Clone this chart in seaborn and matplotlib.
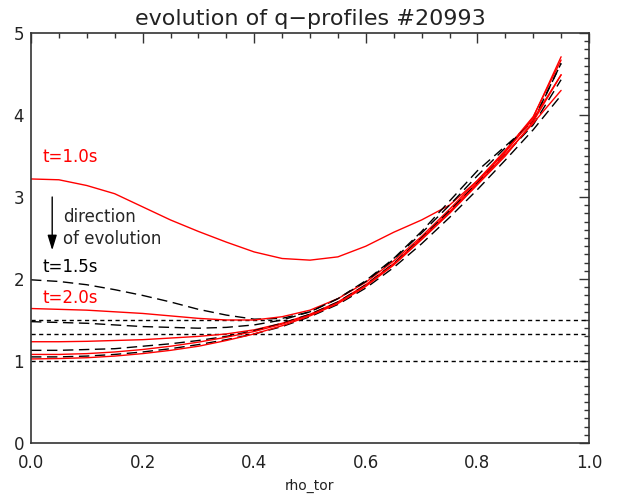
import numpy as np
import pandas as pd
import matplotlib
matplotlib.use("Agg")
import matplotlib.pyplot as plt
import seaborn as sns

# toroidal flux coordinate grid on which the profiles are given
rho = [0.00, 0.05, 0.10, 0.15, 0.20, 0.25, 0.30, 0.35, 0.40, 0.45,
       0.50, 0.55, 0.60, 0.65, 0.70, 0.75, 0.80, 0.85, 0.90, 0.95]

# safety factor profiles, ordered in time (t=1.0s first)
q_p0 = [3.22, 3.21, 3.14, 3.04, 2.88, 2.72, 2.58, 2.45, 2.33, 2.25,
        2.23, 2.27, 2.40, 2.57, 2.72, 2.90, 3.20, 3.55, 3.97, 4.71]
q_p1 = [1.99, 1.97, 1.93, 1.87, 1.80, 1.72, 1.63, 1.56, 1.51, 1.52,
        1.60, 1.76, 1.98, 2.25, 2.58, 2.95, 3.32, 3.62, 3.92, 4.63]
q_p2 = [1.64, 1.63, 1.62, 1.60, 1.58, 1.55, 1.52, 1.50, 1.50, 1.54,
        1.62, 1.76, 1.96, 2.22, 2.52, 2.85, 3.20, 3.57, 3.98, 4.67]
q_p3 = [1.48, 1.47, 1.46, 1.44, 1.42, 1.41, 1.40, 1.41, 1.44, 1.50,
        1.60, 1.76, 1.97, 2.24, 2.56, 2.90, 3.26, 3.60, 3.93, 4.63]
q_p4 = [1.235, 1.235, 1.24, 1.25, 1.26, 1.28, 1.30, 1.33, 1.38, 1.46,
        1.57, 1.72, 1.93, 2.19, 2.50, 2.82, 3.18, 3.55, 3.95, 4.49]
q_p5 = [1.13, 1.13, 1.14, 1.15, 1.18, 1.21, 1.25, 1.30, 1.37, 1.46,
        1.57, 1.72, 1.93, 2.19, 2.50, 2.83, 3.17, 3.52, 3.88, 4.43]
q_p6 = [1.08, 1.08, 1.09, 1.11, 1.14, 1.18, 1.23, 1.29, 1.36, 1.45,
        1.56, 1.71, 1.92, 2.18, 2.49, 2.81, 3.16, 3.52, 3.90, 4.30]
q_p7 = [1.05, 1.05, 1.06, 1.08, 1.11, 1.15, 1.20, 1.26, 1.33, 1.42,
        1.54, 1.69, 1.89, 2.14, 2.43, 2.75, 3.09, 3.45, 3.82, 4.24]
q_p8 = [1.025, 1.03, 1.04, 1.06, 1.09, 1.13, 1.18, 1.25, 1.33, 1.43,
        1.55, 1.70, 1.91, 2.17, 2.48, 2.80, 3.15, 3.50, 3.92, 4.49]

profiles = [q_p0, q_p1, q_p2, q_p3, q_p4, q_p5, q_p6, q_p7, q_p8]
profile_names = [f"p{i}" for i in range(len(profiles))]

# rational surfaces q = 1, 4/3, 3/2
q_rational = [1.0, 4.0 / 3.0, 1.5]

# time labels: (text, colour, x, y)
time_labels = [("t=1.0s", "#ff0000", 0.020, 3.49),
               ("t=1.5s", "black", 0.020, 2.15),
               ("t=2.0s", "#ff0000", 0.020, 1.77)]

df = pd.concat(
    [pd.DataFrame({"rho": rho, "q": q, "profile": name})
     for name, q in zip(profile_names, profiles)],
    ignore_index=True,
)
palette = {name: ("#ff0000" if i % 2 == 0 else "black")
           for i, name in enumerate(profile_names)}
dashes = {name: ("" if i % 2 == 0 else (7.5, 4))
          for i, name in enumerate(profile_names)}

sns.set_style("white")
plt.rcParams["font.family"] = ["DejaVu Sans"]

fig = plt.figure(figsize=(6.17, 4.96), dpi=100)
ax = fig.add_axes([31 / 617, 53 / 496, 558 / 617, 410 / 496])

for qr in q_rational:
    ax.axhline(qr, color="black", lw=1.0, linestyle=(0, (3, 2.5)), zorder=1)

sns.lineplot(data=df, x="rho", y="q", hue="profile", style="profile",
             palette=palette, dashes=dashes, sort=False, legend=False,
             lw=1.0, ax=ax, zorder=2)

ax.set_xlim(0.0, 1.0)
ax.set_ylim(0.0, 5.0)
ax.set_xticks(np.arange(0.0, 1.01, 0.2))
ax.set_xticks(np.arange(0.0, 1.001, 0.05), minor=True)
ax.set_yticks(np.arange(0, 6, 1))
ax.set_yticks(np.arange(0.0, 5.001, 0.1), minor=True)
ax.set_xticklabels([f"{v:.1f}" for v in np.arange(0.0, 1.01, 0.2)])
ax.set_yticklabels([f"{v:d}" for v in range(6)])

ax.tick_params(which="both", direction="in", top=True, right=True,
               color="#333333", width=1.0)
ax.tick_params(which="major", length=7.2)
ax.tick_params(which="minor", length=3.6)
ax.tick_params(axis="x", which="major", labelsize=12, pad=8, labelcolor="#222222")
ax.tick_params(axis="y", which="major", labelsize=12, pad=5, labelcolor="#222222")
for sp in ax.spines.values():
    sp.set_color("#333333")
    sp.set_linewidth(1.2)

ax.set_xlabel("rho_tor", fontsize=10, labelpad=5, color="#222222")
ax.set_ylabel("")
ax.set_title("evolution of q\u2212profiles #20993", fontsize=16, pad=6,
             color="#222222")

for text, col, x, y in time_labels:
    ax.text(x, y, text, color=col, fontsize=12, ha="left", va="center")

ax.annotate("", xy=(0.038, 2.35), xytext=(0.038, 3.0),
            arrowprops=dict(arrowstyle="-|>,head_length=0.65,head_width=0.2",
                            color="black", lw=1.0, mutation_scale=14,
                            shrinkA=0, shrinkB=0))
ax.text(0.057, 2.75, "direction", fontsize=12, ha="left", va="center")
ax.text(0.057, 2.49, "of evolution", fontsize=12, ha="left", va="center")

fig.savefig("out.png", dpi=100)
